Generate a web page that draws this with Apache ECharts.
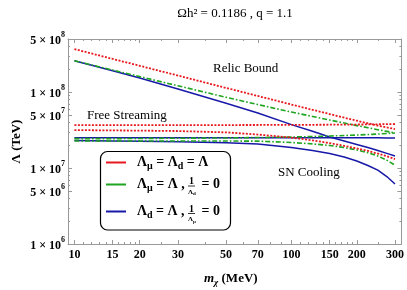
<!DOCTYPE html>
<html><head><meta charset="utf-8">
<script src="https://cdn.jsdelivr.net/npm/echarts@6/dist/echarts.min.js"></script>
<style>html,body{margin:0;padding:0;background:#fff}#c{width:407px;height:290px}</style>
</head><body><div id="c"></div>
<script>
// ---- data ----
const masses = [10, 15, 20, 30, 50, 70, 100, 125, 150, 175, 200, 225, 250, 275, 300];
// case 1: Λμ = Λd = Λ (red)
const redRelic = [3.68e8, 2.73e8, 2.22e8, 1.65e8, 1.135e8, 8.89e7, 6.85e7, 5.85e7, 5.14e7, 4.6e7, 4.2e7, 3.88e7, 3.62e7, 3.43e7, 3.26e7];
const redFS    = [3.68e7, 3.68e7, 3.68e7, 3.68e7, 3.68e7, 3.69e7, 3.70e7, 3.71e7, 3.72e7, 3.73e7, 3.74e7, 3.75e7, 3.77e7, 3.78e7, 3.80e7];
const redSN    = [3.16e7, 3.13e7, 3.11e7, 3.07e7, 2.95e7, 2.76e7, 2.52e7, 2.31e7, 2.13e7, 1.96e7, 1.81e7, 1.68e7, 1.55e7, 1.43e7, 1.31e7];
// case 2: Λμ = Λ, 1/Λd = 0 (green)
const greenRelic = [2.58e8, 1.95e8, 1.60e8, 1.21e8, 8.54e7, 6.85e7, 5.46e7, 4.78e7, 4.28e7, 3.92e7, 3.62e7, 3.40e7, 3.20e7, 3.04e7, 2.89e7];
const greenFS    = [2.44e7, 2.44e7, 2.45e7, 2.47e7, 2.49e7, 2.52e7, 2.56e7, 2.60e7, 2.64e7, 2.68e7, 2.72e7, 2.76e7, 2.80e7, 2.85e7, 2.89e7];
const greenSN    = [2.27e7, 2.27e7, 2.27e7, 2.27e7, 2.27e7, 2.26e7, 2.17e7, 2.08e7, 1.98e7, 1.86e7, 1.73e7, 1.59e7, 1.44e7, 1.27e7, 1.09e7];
// case 3: Λd = Λ, 1/Λμ = 0 (blue)
const blueRelic = [2.58e8, 1.91e8, 1.53e8, 1.10e8, 7.14e7, 5.31e7, 3.73e7, 3.05e7, 2.56e7, 2.27e7, 2.04e7, 1.86e7, 1.70e7, 1.56e7, 1.44e7];
const blueFS    = [2.50e7, 2.50e7, 2.50e7, 2.50e7, 2.50e7, 2.50e7, 2.50e7, 2.50e7, 2.50e7, 2.50e7, 2.50e7, 2.50e7, 2.50e7, 2.49e7, 2.49e7];
const blueSN    = [2.30e7, 2.27e7, 2.26e7, 2.22e7, 2.15e7, 2.07e7, 1.86e7, 1.70e7, 1.55e7, 1.40e7, 1.24e7, 1.08e7, 9.4e6, 7.73e6, 6.16e6];
// ticks
const xTickLabels = [10, 15, 20, 30, 50, 70, 100, 150, 200, 300];
const xMinorTicks = [11, 12, 13, 14, 16, 17, 18, 19, 25, 40, 60, 80, 90, 110, 120, 130, 140, 160, 170, 180, 190, 250];
const yTickLabels = [1e6, 5e6, 1e7, 5e7, 1e8, 5e8];
const yMinorTicks = [2e6, 3e6, 4e6, 6e6, 7e6, 8e6, 9e6, 2e7, 3e7, 4e7, 6e7, 7e7, 8e7, 9e7, 2e8, 3e8, 4e8];

const SERIF = '"Liberation Serif", "Times New Roman", serif';
const L = Math.log10;
const xMin = 9.343, xMax = 321.1, yMin = 1e6, yMax = 5e8;
const RED = '#e8191e', GREEN = '#1fa51f', BLUE = '#1818a8';
const AX = '#999999';

const mctx = document.createElement('canvas').getContext('2d');
function fontStr(size, weight, style) { return (style || 'normal') + ' ' + (weight || 'normal') + ' ' + size + 'px ' + SERIF; }
function tw(t, size, weight, style) { mctx.font = fontStr(size, weight, style); return mctx.measureText(t).width; }
function txt(t, x, baseline, size, weight, style, align, extra) {
  return Object.assign({
    type: 'text', x: x, y: baseline - 0.34 * size, z: 100,
    style: { text: t, font: fontStr(size, weight, style), fill: '#000', align: align || 'left', verticalAlign: 'middle' }
  }, extra || {});
}
function seq(parts, x0, baseline) {
  const out = []; let x = x0;
  parts.forEach(p => {
    out.push(txt(p.t, x, baseline + (p.dy || 0), p.size, p.weight, p.style));
    x += tw(p.t, p.size, p.weight, p.style);
  });
  return out;
}

function lineSeries(arr, color, width, type) {
  return {
    type: 'line', xAxisIndex: 0, yAxisIndex: 0, silent: true, symbol: 'none', showSymbol: false,
    data: masses.map((m, i) => [m, arr[i]]),
    lineStyle: { color: color, width: width, type: type, cap: 'butt', join: 'round' }
  };
}
const dotted = [2, 1.5], dashdot = [5, 2, 1.6, 2];

function decoAxis(pos, min, max, vals, len, showLine, labels) {
  const ax = {
    type: 'value', position: pos, min: min, max: max, gridIndex: 0,
    axisLine: { show: showLine, lineStyle: { color: AX, width: 1 } },
    axisTick: { show: true, inside: true, length: len, customValues: vals, lineStyle: { color: AX, width: 1 } },
    axisLabel: { show: false },
    splitLine: { show: false }
  };
  if (labels) ax.axisLabel = labels;
  return ax;
}

const xLabelOpt = {
  show: true, customValues: xTickLabels.map(L), margin: 5,
  formatter: v => String(Math.round(Math.pow(10, v))),
  fontFamily: SERIF, fontWeight: 'bold', fontSize: 12, color: '#000'
};
const yLabelOpt = {
  show: true, customValues: yTickLabels.map(L), margin: 3,
  formatter: v => { const e = Math.floor(v + 1e-9); const m = Math.round(Math.pow(10, v - e)); return '{a|' + m + ' × 10}{s|' + e + '}'; },
  rich: {
    a: { fontFamily: SERIF, fontWeight: 'bold', fontSize: 12, color: '#000', verticalAlign: 'bottom', lineHeight: 16 },
    s: { fontFamily: SERIF, fontWeight: 'bold', fontSize: 8, color: '#000', verticalAlign: 'top', lineHeight: 9 }
  }
};

const lx0 = L(xMin), lx1 = L(xMax), ly0 = L(yMin), ly1 = L(yMax);

const graphics = [];
// title
graphics.push(txt('Ωh² = 0.1186 , q = 1.1', 235, 17.5, 13, 'normal', 'normal', 'center'));
// annotations
graphics.push(txt('Relic Bound', 213, 72.5, 13));
graphics.push(txt('Free Streaming', 87, 119.5, 13));
graphics.push(txt('SN Cooling', 278, 177, 13));
// y axis name
graphics.push({ type: 'text', x: 17, y: 141.5, rotation: Math.PI / 2, z: 100,
  style: { text: 'Λ (TeV)', font: fontStr(13, 'bold'), fill: '#000', align: 'center', verticalAlign: 'middle' } });
// x axis name
seq([{ t: 'm', size: 13, weight: 'bold', style: 'italic' }, { t: 'χ', size: 9, weight: 'bold', style: 'italic', dy: 2.5 },
     { t: ' (MeV)', size: 13, weight: 'bold' }], 204, 283.5).forEach(g => graphics.push(g));
// legend box
graphics.push({ type: 'rect', z: 99, shape: { x: 100.5, y: 151.5, width: 130, height: 78.5, r: 7 },
  style: { fill: '#fff', stroke: '#000', lineWidth: 1.2 } });
[[162.5, RED], [184.5, GREEN], [211.5, BLUE]].forEach(([y, c]) => {
  graphics.push({ type: 'line', z: 100, shape: { x1: 106, y1: y, x2: 126, y2: y }, style: { stroke: c, lineWidth: 2 } });
});
const LS = 14, SS = 10;
// row 1
seq([{ t: 'Λ', size: LS, weight: 'bold' }, { t: 'μ', size: SS, weight: 'bold', dy: 2.5 }, { t: ' = Λ', size: LS, weight: 'bold' },
     { t: 'd', size: SS, weight: 'bold', dy: 2.5 }, { t: ' = Λ', size: LS, weight: 'bold' }], 137, 167).forEach(g => graphics.push(g));
// row 2
seq([{ t: 'Λ', size: LS, weight: 'bold' }, { t: 'μ', size: SS, weight: 'bold', dy: 2.5 }, { t: ' = Λ ,', size: LS, weight: 'bold' }], 137, 189).forEach(g => graphics.push(g));
graphics.push(txt('1', 191.4, 185.2, 10, 'bold', 'normal', 'center'));
graphics.push({ type: 'line', z: 100, shape: { x1: 188, y1: 186, x2: 195, y2: 186 }, style: { stroke: '#000', lineWidth: 0.8 } });
seq([{ t: 'Λ', size: 7, weight: 'bold' }, { t: 'd', size: 5, weight: 'bold', dy: 1 }], 188, 194.5).forEach(g => graphics.push(g));
graphics.push(txt(' = 0', 198, 189, LS, 'bold'));
// row 3
seq([{ t: 'Λ', size: LS, weight: 'bold' }, { t: 'd', size: SS, weight: 'bold', dy: 2.5 }, { t: ' = Λ ,', size: LS, weight: 'bold' }], 137, 216).forEach(g => graphics.push(g));
graphics.push(txt('1', 191.4, 212.6, 10, 'bold', 'normal', 'center'));
graphics.push({ type: 'line', z: 100, shape: { x1: 188, y1: 213.5, x2: 195, y2: 213.5 }, style: { stroke: '#000', lineWidth: 0.8 } });
seq([{ t: 'Λ', size: 7, weight: 'bold' }, { t: 'μ', size: 5, weight: 'bold', dy: 1 }], 188, 222).forEach(g => graphics.push(g));
graphics.push(txt(' = 0', 198, 216, LS, 'bold'));

const chart = echarts.init(document.getElementById('c'), null, { renderer: 'canvas' });
chart.setOption({
  animation: false,
  backgroundColor: '#fff',
  grid: { left: 68, right: 5, top: 39, bottom: 46, show: false },
  xAxis: [
    { type: 'log', min: xMin, max: xMax, show: false, gridIndex: 0 },
    decoAxis('bottom', lx0, lx1, xTickLabels.map(L), 4, true, xLabelOpt),
    decoAxis('bottom', lx0, lx1, xMinorTicks.map(L), 2, false),
    decoAxis('top', lx0, lx1, xTickLabels.map(L), 4, true),
    decoAxis('top', lx0, lx1, xMinorTicks.map(L), 2, false)
  ],
  yAxis: [
    { type: 'log', min: yMin, max: yMax, show: false, gridIndex: 0 },
    decoAxis('left', ly0, ly1, yTickLabels.map(L), 4, true, yLabelOpt),
    decoAxis('left', ly0, ly1, yMinorTicks.map(L), 2, false),
    decoAxis('right', ly0, ly1, yTickLabels.map(L), 4, true),
    decoAxis('right', ly0, ly1, yMinorTicks.map(L), 2, false)
  ],
  series: [
    lineSeries(blueRelic, BLUE, 1.5, 'solid'),
    lineSeries(blueFS, BLUE, 1.5, 'solid'),
    lineSeries(blueSN, BLUE, 1.5, 'solid'),
    lineSeries(greenRelic, GREEN, 1.6, dashdot),
    lineSeries(greenFS, GREEN, 1.6, dashdot),
    lineSeries(greenSN, GREEN, 1.6, dashdot),
    lineSeries(redRelic, RED, 1.8, dotted),
    lineSeries(redFS, RED, 1.8, dotted),
    lineSeries(redSN, RED, 1.8, dotted)
  ],
  graphic: { elements: graphics }
});
</script></body></html>
